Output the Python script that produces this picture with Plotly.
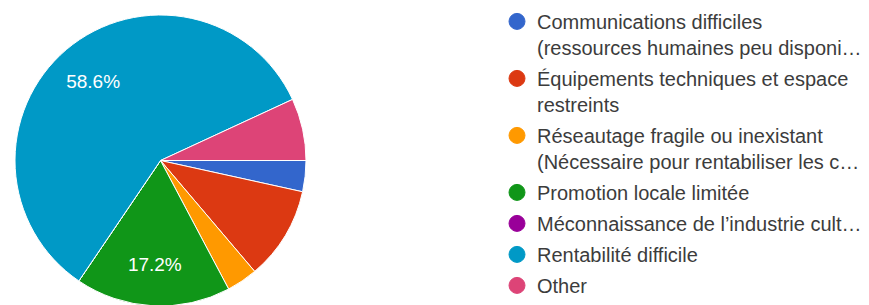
import plotly.graph_objects as go

labels = [
    "Communications difficiles<br>(ressources humaines peu disponi…",
    "Équipements techniques et espace<br>restreints",
    "Réseautage fragile ou inexistant<br>(Nécessaire pour rentabiliser les c…",
    "Promotion locale limitée",
    "Méconnaissance de l’industrie cult…",
    "Rentabilité difficile",
    "Other",
]
counts = [1, 3, 1, 5, 0, 17, 2]
colors = ["#3366cc", "#dc3912", "#ff9900", "#109618", "#990099", "#0099c6", "#dd4477"]

total = sum(counts)
texts = [f"{c / total * 100:.1f}%" if c / total > 0.15 else "" for c in counts]

W, H = 869, 305
# the page body adds an 8px offset; positions below are in figure pixels
dom_x = [7 / W, 298 / W]
dom_y = [7 / H, 298 / H]

fig = go.Figure()
fig.add_trace(go.Pie(
    labels=labels, values=counts, sort=False, direction="clockwise", rotation=90,
    marker=dict(colors=colors, line=dict(color="white", width=1)),
    textinfo="none", domain=dict(x=dom_x, y=dom_y),
    showlegend=False, hoverinfo="label+percent",
))
# transparent ring on top, only to carry the percentage labels
fig.add_trace(go.Pie(
    labels=labels, values=counts, sort=False, direction="clockwise", rotation=90,
    hole=0.43,
    marker=dict(colors=["rgba(0,0,0,0)"] * len(counts), line=dict(width=0)),
    text=texts, textinfo="text", textposition="inside",
    insidetextorientation="horizontal",
    textfont=dict(family="Arial, Liberation Sans", size=19, color="white"),
    domain=dict(x=dom_x, y=dom_y),
    showlegend=False, hoverinfo="skip",
))
for i, (lab, col) in enumerate(zip(labels, colors)):
    fig.add_trace(go.Scatter(
        x=[None], y=[None], mode="markers", name=lab, legendgroup=f"g{i}",
        marker=dict(color=col, size=16, symbol="circle", line=dict(color=col, width=1)),
        showlegend=True,
    ))

fig.update_layout(
    width=W, height=H, margin=dict(l=0, r=0, t=0, b=0, autoexpand=False),
    paper_bgcolor="white", plot_bgcolor="white",
    xaxis=dict(visible=False), yaxis=dict(visible=False),
    legend=dict(
        x=489 / W, xanchor="left", y=1.02, yanchor="top", valign="top",
        font=dict(family="Arial, Liberation Sans", size=20, color="#3c3c3c"),
        bgcolor="rgba(0,0,0,0)", itemclick=False, itemdoubleclick=False,
        tracegroupgap=2, maxheight=1000,
    ),
)
fig.write_html("out.html")
